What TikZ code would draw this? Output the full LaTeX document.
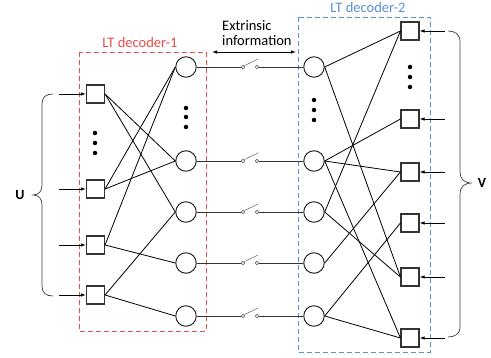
\documentclass[tikz,border=0pt]{standalone}
\usepackage{fontspec}
\setmainfont{Carlito}
\usetikzlibrary{arrows.meta}
\definecolor{redbox}{HTML}{E94B4B}
\definecolor{bluebox}{HTML}{5B8ED6}
\tikzset{
  sq/.style={draw=black!80,line width=1.1pt,minimum size=18pt,inner sep=0pt},
  circ/.style={draw=black!90,line width=0.9pt,circle,minimum size=20.5pt,inner sep=0pt},
  edge/.style={draw=black,line width=0.8pt},
  inarrow/.style={draw=black,line width=0.8pt,-{Latex[length=5pt,width=3.5pt]}},
  dotn/.style={circle,fill=black,inner sep=0pt,minimum size=4.5pt},
  term/.style={circle,draw=black!70,line width=0.4pt,inner sep=0pt,minimum size=3.5pt},
  wire/.style={draw=black!80,line width=0.9pt},
  lever/.style={draw=black!60,line width=0.5pt},
  brace/.style={draw=black!75,line width=0.7pt},
  redframe/.style={draw=redbox,dashed,dash pattern=on 5pt off 3pt,line width=0.8pt},
  blueframe/.style={draw=bluebox,dashed,dash pattern=on 5pt off 3pt,line width=0.8pt},
  lbl/.style={font=\fontsize{14.5}{15}\selectfont,inner sep=0pt}
}
\begin{document}
\begin{tikzpicture}[x=1pt,y=-1pt]
\useasboundingbox (0,0) rectangle (491,358);
% frames
\draw[redframe] (79,52) rectangle (206,331);
\draw[blueframe] (298,17) rectangle (430,352);
\node[lbl,text=redbox] (lt1) at (140,43) {LT decoder-1};
\node[lbl,text=bluebox] (lt2) at (368,7.5) {LT decoder-2};
\node[lbl,align=left,anchor=west] (ext) at (222,33.5) {Extrinsic\\information};
\coordinate (ea) at (212,52);
\coordinate (eb) at (296,52);
\draw[line width=0.8pt,{Latex[length=5pt,width=3.5pt]}-{Latex[length=5pt,width=3.5pt]}] (ea) -- (eb);

% left squares
\foreach \n/\y in {1/94,2/189,3/245,4/295}{
  \node[sq] (S\n) at (95.5,\y) {};
  \coordinate (Sin\n) at (59,\y);
  \draw[inarrow] (Sin\n) -- (S\n.west);
}
% left circles
\foreach \n/\y in {1/67,2/161,3/212,4/263,5/316}{
  \node[circ] (C\n) at (186,\y) {};
}
% right circles
\foreach \n/\y in {1/67,2/161,3/212,4/263,5/316}{
  \node[circ] (R\n) at (314,\y) {};
}
% right squares
\foreach \n/\y in {1/31,2/119,3/172,4/223,5/277,6/338}{
  \node[sq] (Q\n) at (410,\y) {};
  \coordinate (Qin\n) at (445,\y);
  \draw[inarrow] (Qin\n) -- (Q\n.east);
}
% dots
\foreach \y [count=\i] in {133,143,153}{ \node[dotn] (dl\i) at (95,\y) {}; }
\foreach \y [count=\i] in {108,117,127}{ \node[dotn] (dc\i) at (186,\y) {}; }
\foreach \y [count=\i] in {100,110,120}{ \node[dotn] (dr\i) at (314,\y) {}; }
\foreach \y [count=\i] in {67,77,87}{ \node[dotn] (dq\i) at (410,\y) {}; }

% left edges
\foreach \a/\b in {1/2,1/3,2/1,2/2,3/1,3/4,4/3,4/5}{
  \draw[edge] (S\a.east) -- (C\b.west);
}
% right edges
\foreach \a/\b in {1/1,1/5,2/2,2/3,2/6,3/1,3/5,4/3,5/4,5/6}{
  \draw[edge] (R\a.east) -- (Q\b.west);
}
% switches
\foreach \n/\y in {1/67,2/161,3/212,4/263,5/316}{
  \node[term] (ta\n) at (243,\y) {};
  \node[term] (tb\n) at (257,\y) {};
  \coordinate (tl\n) at (258,\y-8);
  \draw[wire] (C\n.east) -- (ta\n.west);
  \draw[wire] (tb\n.east) -- (R\n.west);
  \draw[lever] (ta\n.north east) -- (tl\n);
}
% braces
\draw[brace] (53,94) .. controls (46,94) and (42,97) .. (42,104) -- (42,185) .. controls (42,191) and (39,195) .. (33,195)
  .. controls (39,195) and (42,199) .. (42,205) -- (42,286) .. controls (42,293) and (46,296) .. (53,296);
\draw[brace] (448,31) .. controls (455,31) and (460,34) .. (460,42) -- (460,172) .. controls (460,179) and (464,183) .. (472,183)
  .. controls (464,183) and (460,187) .. (460,194) -- (460,327) .. controls (460,334) and (455,337) .. (448,337);
\node[font=\fontsize{14}{16}\selectfont\bfseries,inner sep=0pt] (U) at (20,195) {U};
\node[font=\fontsize{14}{16}\selectfont\bfseries,inner sep=0pt] (V) at (482,183) {V};
\end{tikzpicture}
\end{document}
